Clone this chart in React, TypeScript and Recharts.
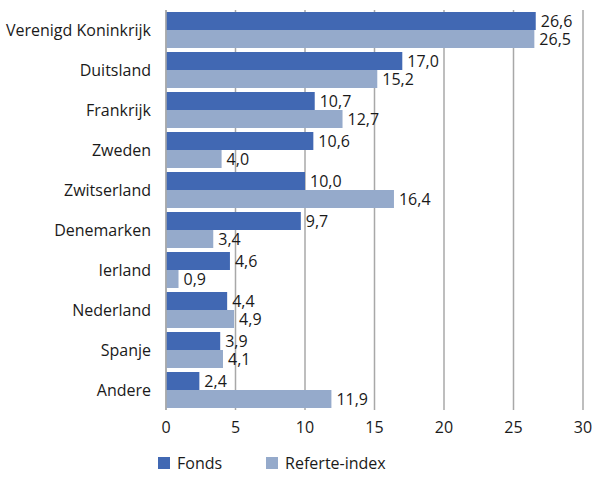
import { Bar, BarChart, CartesianGrid, LabelList, Legend, XAxis, YAxis } from "recharts";

const countries = [
  "Verenigd Koninkrijk",
  "Duitsland",
  "Frankrijk",
  "Zweden",
  "Zwitserland",
  "Denemarken",
  "Ierland",
  "Nederland",
  "Spanje",
  "Andere",
];
const fonds = [26.6, 17.0, 10.7, 10.6, 10.0, 9.7, 4.6, 4.4, 3.9, 2.4];
const referte = [26.5, 15.2, 12.7, 4.0, 16.4, 3.4, 0.9, 4.9, 4.1, 11.9];
const xTicks = [0, 5, 10, 15, 20, 25, 30];

const series = [
  { key: "fonds", name: "Fonds", color: "#4168B3" },
  { key: "referte", name: "Referte-index", color: "#95AACB" },
];

const data = countries.map((country, i) => ({
  country,
  fonds: fonds[i],
  referte: referte[i],
}));

const FONT = "'Open Sans', 'Noto Sans', sans-serif";
const fmt = (v: number) => v.toFixed(1).replace(".", ",");

function LegendBox() {
  return (
    <div style={{ height: 34, display: "flex", alignItems: "flex-end", paddingLeft: 158, fontFamily: FONT, fontSize: 16, color: "#1a1a1a" }}>
      {series.map((s, i) => (
        <div key={s.key} style={{ display: "flex", alignItems: "center", marginRight: i === 0 ? 44 : 0, lineHeight: "22px" }}>
          <span style={{ width: 12, height: 12, background: s.color, display: "inline-block", marginRight: 7 }} />
          <span>{s.name}</span>
        </div>
      ))}
    </div>
  );
}

export default function App() {
  return (
    <div style={{ position: "absolute", left: 0, top: 0, background: "#fff" }}>
      <BarChart
        width={594}
        height={477}
        data={data}
        layout="vertical"
        margin={{ top: 10, right: 11, left: 0, bottom: 3 }}
        barCategoryGap="5%"
        barGap={0}
      >
        <CartesianGrid horizontal={false} stroke="#A8A8A8" strokeWidth={1.5} />
        <XAxis
          type="number"
          domain={[0, 30]}
          ticks={xTicks}
          axisLine={false}
          tickLine={false}
          tickMargin={6}
          height={30}
          tick={{ fill: "#1a1a1a", fontSize: 16, fontFamily: FONT }}
        />
        <YAxis
          type="category"
          dataKey="country"
          width={166}
          axisLine={{ stroke: "#A8A8A8", strokeWidth: 1.5 }}
          tickLine={false}
          tickSize={0}
          tickMargin={15}
          interval={0}
          tick={{ fill: "#1a1a1a", fontSize: 16, fontFamily: FONT }}
        />
        <Legend verticalAlign="bottom" height={34} content={() => <LegendBox />} />
        {series.map((s) => (
          <Bar key={s.key} dataKey={s.key} name={s.name} fill={s.color} isAnimationActive={false}>
            <LabelList
              dataKey={s.key}
              position="right"
              offset={5}
              formatter={(v: number) => fmt(v)}
              style={{ fill: "#1a1a1a", fontSize: 16, fontFamily: FONT }}
            />
          </Bar>
        ))}
      </BarChart>
    </div>
  );
}
